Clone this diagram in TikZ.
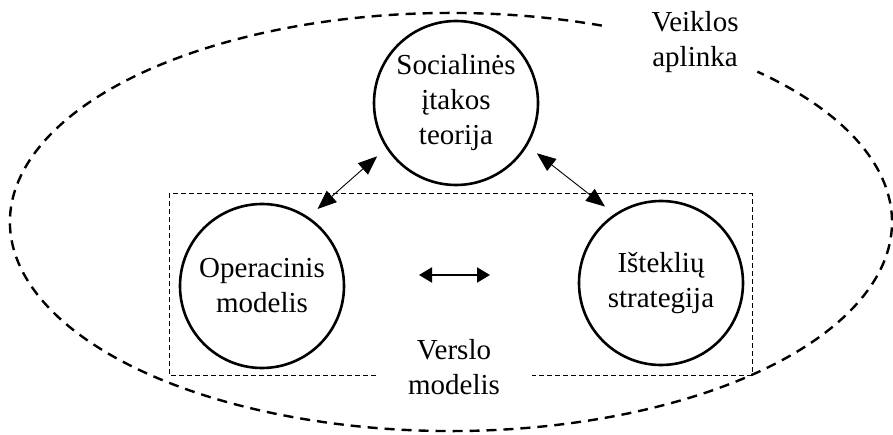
\documentclass[tikz,border=0pt]{standalone}
\usepackage{fontspec}
\setmainfont{Liberation Serif}
\usetikzlibrary{arrows.meta}
\begin{document}
\begin{tikzpicture}[x=1pt,y=1pt,
  txt/.style={font=\fontsize{29}{35}\selectfont, align=center, inner sep=0pt},
  blob/.style={circle, draw, line width=2.6pt, minimum size=164pt, inner sep=0pt,
    font=\fontsize{29}{35}\selectfont, align=center},
  link/.style={line width=0.9pt, {Triangle[length=19pt,width=15pt]}-{Triangle[length=19pt,width=15pt]}, shorten <=12pt, shorten >=12pt},
  hlink/.style={line width=2pt, {Triangle[length=13pt,width=15pt]}-{Triangle[length=13pt,width=15pt]}},
  envline/.style={line width=2.4pt, dash pattern=on 10pt off 7pt},
  boxline/.style={line width=1pt, dash pattern=on 5pt off 3pt}]
\useasboundingbox (0,0) rectangle (893,434);
% environment ellipse with gap for label
\draw[envline] (451,212) ++(70:441 and 209) arc[start angle=70, end angle=406, x radius=441, y radius=209];
\node[txt] (env) at (695,392) {Veiklos\\aplinka};
% business model box with gap
\draw[boxline] (376,59) -- (169,59) -- (169,240) -- (752,240) -- (752,59) -- (532,59);
\node[txt] (bm) at (454,67) {Verslo\\modelis};
% circles
\node[blob] (soc) at (456,331) {Socialinės\\įtakos\\teorija};
\node[blob] (op) at (262,148) {Operacinis\\modelis};
\node[blob] (res) at (661,151) {Išteklių\\strategija};
% connectors
\draw[link] (soc.213) -- (op.56);
\draw[link] (soc.329) -- (res.124);
\coordinate (ha) at (419,159);
\coordinate (hb) at (490,159);
\draw[hlink] (ha) -- (hb);
\end{tikzpicture}
\end{document}
